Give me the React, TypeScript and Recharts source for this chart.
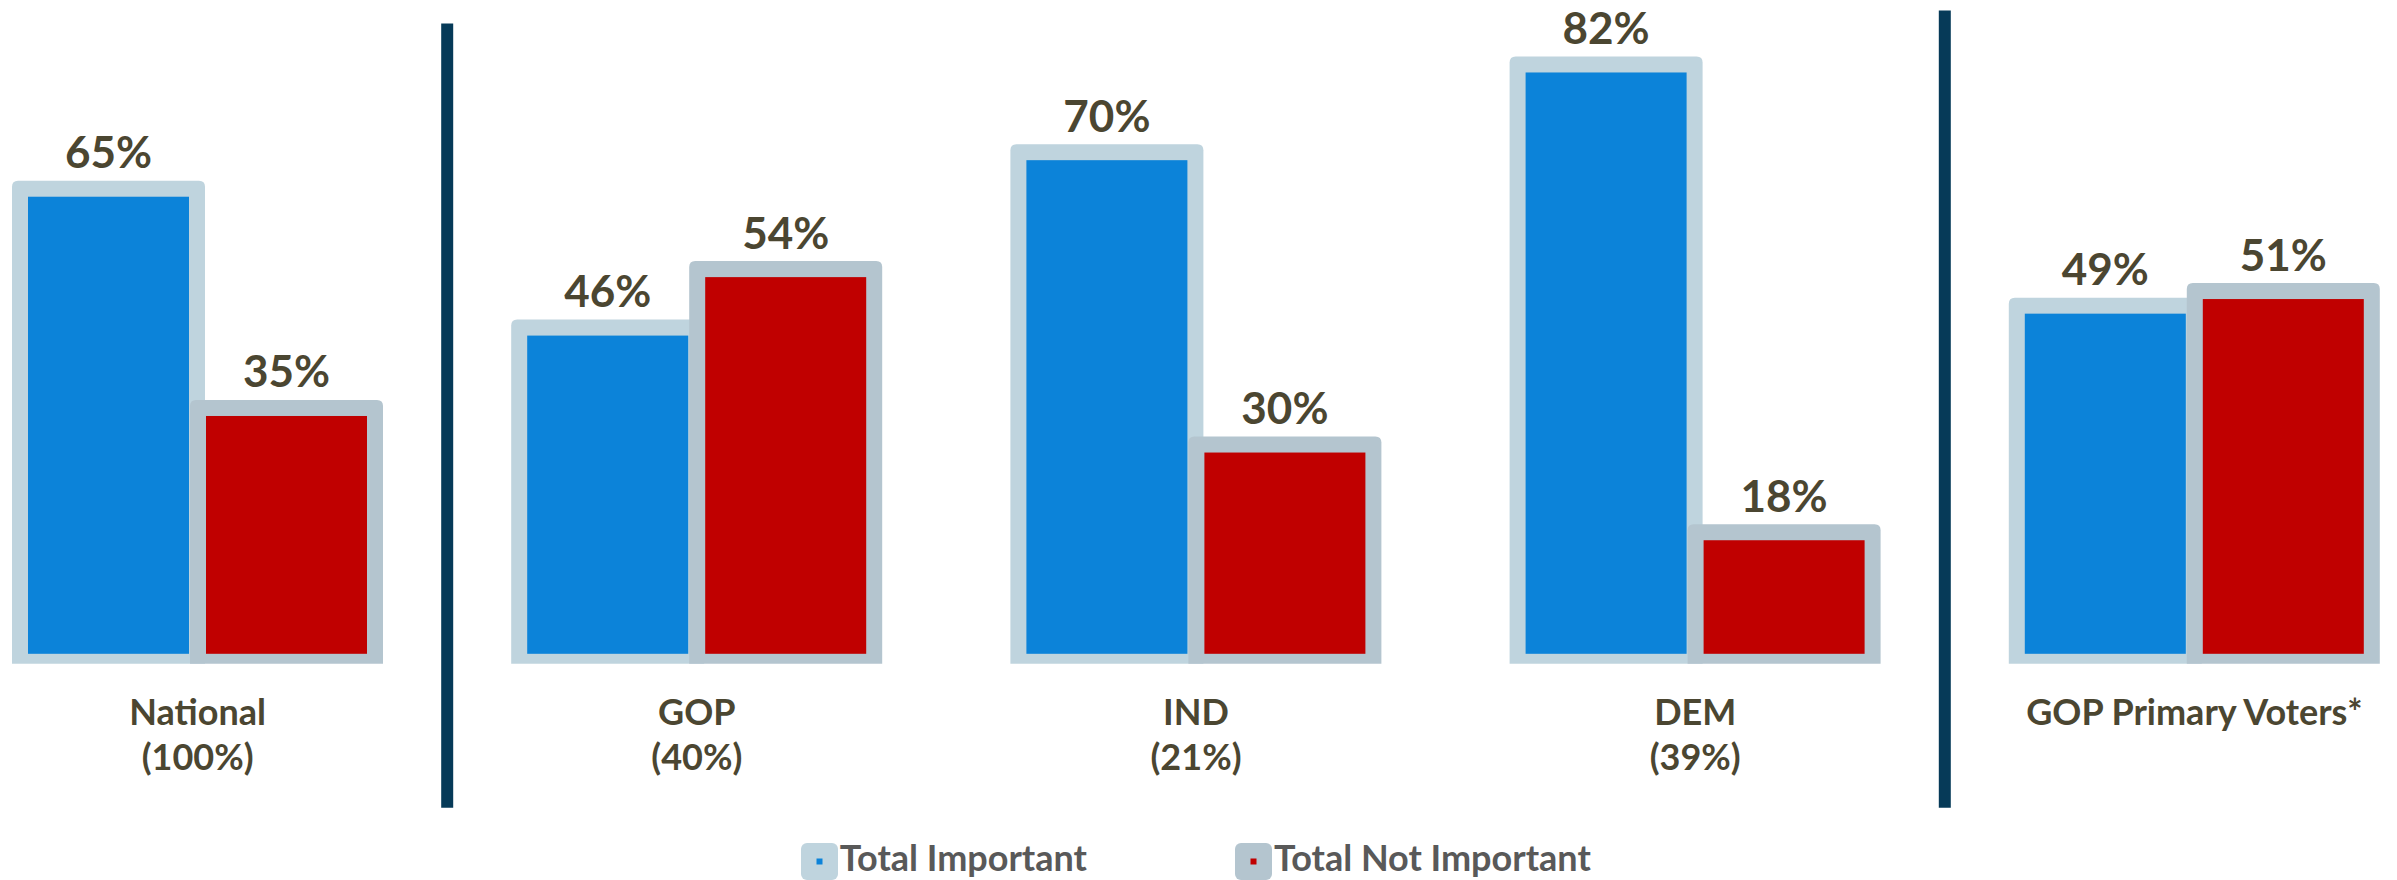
import { Bar, BarChart, LabelList, Legend, ReferenceLine, XAxis, YAxis } from "recharts"

const categories = ["National", "GOP", "IND", "DEM", "GOP Primary Voters*"]
const subLabels = ["(100%)", "(40%)", "(21%)", "(39%)", ""]
const important = [65, 46, 70, 82, 49]
const notImportant = [35, 54, 30, 18, 51]

// separadores entre grupos (en unidades del eje Y)
const dividerAfter = ["National", "DEM"]
const dividerTop = [87.6, 89.4]
const dividerBottom = -19.7

const series = [
  { key: "important", name: "Total Important", fill: "#0c83d9", border: "#bfd4de" },
  { key: "notImportant", name: "Total Not Important", fill: "#c00000", border: "#b4c5cf" },
]

const data = categories.map((name, i) => ({
  name,
  important: important[i],
  notImportant: notImportant[i],
}))

const TEXT = "#4b4631"
const FONT = "Lato, 'Open Sans', sans-serif"
const B = 16

function BorderedBar(props: any) {
  const { x, y, width, height, fill, border } = props
  if (!height || height <= 0) return null
  const r = 6
  const ox = x - B / 2
  const oy = y - B / 2
  const ow = width + B
  const ob = y + height
  const d = `M${ox},${ob} L${ox},${oy + r} Q${ox},${oy} ${ox + r},${oy} L${ox + ow - r},${oy} Q${ox + ow},${oy} ${ox + ow},${oy + r} L${ox + ow},${ob} Z`
  return (
    <g>
      <path d={d} fill={border} />
      <rect x={x + B / 2} y={y + B / 2} width={width - B} height={Math.max(0, height - B / 2 - 10)} fill={fill} />
    </g>
  )
}

function ValueLabel(props: any) {
  const { x, y, width, value } = props
  return (
    <text
      x={x + width / 2}
      y={y - 20.5}
      textAnchor="middle"
      fill={TEXT}
      style={{ fontFamily: FONT, fontWeight: 700, fontSize: 44 }}
    >
      {value}%
    </text>
  )
}

function CategoryTick(props: any) {
  const { x, y, payload } = props
  const sub = subLabels[categories.indexOf(payload.value)]
  const st = { fontFamily: FONT, fontWeight: 700, fontSize: 36 }
  return (
    <g>
      <text x={x} y={y + 60.7} textAnchor="middle" fill={TEXT} style={st}>
        {payload.value}
      </text>
      {sub && (
        <text x={x} y={y + 106} textAnchor="middle" fill={TEXT} style={st}>
          {sub}
        </text>
      )}
    </g>
  )
}

function LegendContent() {
  return (
    <div
      style={{
        display: "flex",
        justifyContent: "center",
        alignItems: "flex-start",
        fontFamily: FONT,
        fontWeight: 700,
        fontSize: 36,
        lineHeight: "36px",
        color: "#595959",
      }}
    >
      {series.map((s, i) => (
        <div key={s.key} style={{ display: "flex", alignItems: "flex-start", marginRight: i === 0 ? 148 : 0 }}>
          <svg width={37} height={37} style={{ display: "block", marginTop: 4 }}>
            <rect x={0} y={0} width={37} height={37} rx={6} fill={s.border} />
            <rect x={15.5} y={15.5} width={6} height={6} fill={s.fill} />
          </svg>
          <span style={{ marginLeft: 2 }}>{s.name}</span>
        </div>
      ))}
    </div>
  )
}

export default function App() {
  return (
    <div style={{ position: "absolute", left: 0, top: 0, width: 2397, height: 880, overflow: "hidden", background: "#fff" }}>
      <div style={{ position: "absolute", left: -52.2, top: 0 }}>
        <BarChart
          width={2496}
          height={880}
          data={data}
          margin={{ top: 6, right: 0, left: 0, bottom: 76.2 }}
          barSize={177}
          barGap={1}
        >
          <XAxis
            dataKey="name"
            height={140}
            interval={0}
            axisLine={false}
            tickLine={false}
            tickSize={0}
            tickMargin={0}
            tick={<CategoryTick />}
          />
          <YAxis hide domain={[0, 90]} />
          {dividerAfter.map((c, i) => (
            <ReferenceLine
              key={c}
              segment={[
                { x: c, y: dividerBottom },
                { x: c, y: dividerTop[i] },
              ]}
              position="end"
              ifOverflow="visible"
              stroke="#063a58"
              strokeWidth={12}
            />
          ))}
          {series.map((s) => (
            <Bar
              key={s.key}
              dataKey={s.key}
              name={s.name}
              fill={s.fill}
              isAnimationActive={false}
              shape={(p: any) => <BorderedBar {...p} fill={s.fill} border={s.border} />}
            >
              <LabelList dataKey={s.key} content={<ValueLabel />} />
            </Bar>
          ))}
          <Legend
            layout="horizontal"
            verticalAlign="middle"
            align="center"
            content={<LegendContent />}
            wrapperStyle={{ top: 839, left: 0, bottom: "auto", width: 2496, height: 41 }}
          />
        </BarChart>
      </div>
    </div>
  )
}
